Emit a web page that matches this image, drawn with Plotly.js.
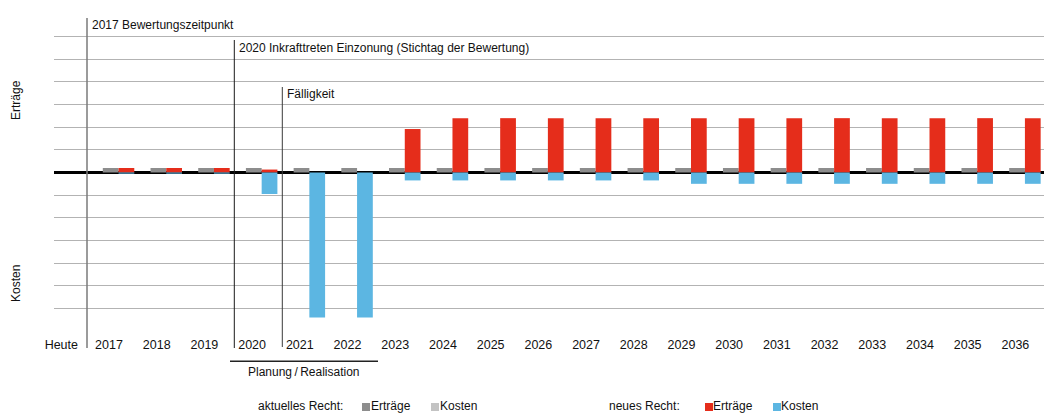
<!DOCTYPE html>
<html>
<head>
<meta charset="utf-8">
<script src="https://cdn.plot.ly/plotly-3.0.1.min.js"></script>
<style>
html,body{margin:0;padding:0;background:#fff;}
#chart{width:1045px;height:413px;}
</style>
</head>
<body>
<div id="chart"></div>
<script>
// ---- data ----
var categories = ['Heute','2017','2018','2019','2020','2021','2022','2023','2024','2025','2026','2027','2028','2029','2030','2031','2032','2033','2034','2035','2036'];
var aktuellErtraege = [0,0.2,0.2,0.2,0.2,0.2,0.2,0.2,0.2,0.2,0.2,0.2,0.2,0.2,0.2,0.2,0.2,0.2,0.2,0.2,0.2];
var aktuellKosten   = [0,0,0,0,0,0,0,0,0,0,0,0,0,0,0,0,0,0,0,0,0];
var neuErtraege     = [0,0.2,0.2,0.2,0.13,0,0,1.92,2.4,2.4,2.4,2.4,2.4,2.4,2.4,2.4,2.4,2.4,2.4,2.4,2.4];
var neuKosten       = [0,-0.05,-0.05,-0.05,-0.95,-6.4,-6.4,-0.35,-0.35,-0.35,-0.35,-0.35,-0.35,-0.5,-0.5,-0.5,-0.5,-0.5,-0.5,-0.5,-0.5];
var legendLabels = {aktuell:'aktuelles Recht:', neu:'neues Recht:', ertraege:'Erträge', kosten:'Kosten'};

// ---- geometry helpers (pixel -> paper) ----
var L = 54, R = 1044, T = 14, B = 331;
function px(x){ return (x - L) / (R - L); }
function py(y){ return (B - y) / (B - T); }

var C = {grau:'#8d8d8d', hellgrau:'#c3c3c3', rot:'#e52d1b', blau:'#5cb6e2'};
var W = 0.33;

var traces = [
  {type:'bar', x:categories, y:aktuellErtraege, width:W, offset:-0.13, marker:{color:C.grau}, name:'aktuelles Recht Erträge', showlegend:false, hoverinfo:'x+y'},
  {type:'bar', x:categories, y:aktuellKosten, width:W, offset:-0.13, marker:{color:C.hellgrau}, name:'aktuelles Recht Kosten', showlegend:false, hoverinfo:'x+y'},
  {type:'bar', x:categories, y:neuErtraege, width:W, offset:0.2, marker:{color:C.rot}, name:'neues Recht Erträge', showlegend:false, hoverinfo:'x+y'},
  {type:'bar', x:categories, y:neuKosten, width:W, offset:0.2, marker:{color:C.blau}, name:'neues Recht Kosten', showlegend:false, hoverinfo:'x+y'}
];

var fnt = {family:'"Liberation Sans", Arial, sans-serif', size:12, color:'#111'};
function ann(text, x, y, xanchor, opts){
  var a = {text:text, xref:'paper', yref:'paper', x:px(x), y:py(y), xanchor:xanchor||'left', yanchor:'middle', showarrow:false, font:fnt};
  for (var k in (opts||{})) a[k]=opts[k];
  return a;
}

var annotations = [
  ann('2017 Bewertungszeitpunkt', 90, 25, 'left'),
  ann('2020 Inkrafttreten Einzonung (Stichtag der Bewertung)', 237, 48, 'left'),
  ann('Fälligkeit', 285, 94, 'left'),
  ann('Erträge', 16, 100, 'center', {textangle:-90}),
  ann('Kosten', 16, 284, 'center', {textangle:-90}),
  ann('Planung\u2009/\u2009Realisation', 304, 372, 'center'),
  ann(legendLabels.aktuell, 256, 406, 'left'),
  ann(legendLabels.ertraege, 369, 406, 'left'),
  ann(legendLabels.kosten, 438, 406, 'left'),
  ann(legendLabels.neu, 607, 406, 'left'),
  ann(legendLabels.ertraege, 711, 406, 'left'),
  ann(legendLabels.kosten, 779, 406, 'left')
];

function vline(x, yTop, yBot, color, w){
  return {type:'line', xref:'paper', yref:'paper', x0:px(x), x1:px(x), y0:py(yTop), y1:py(yBot), line:{color:color, width:w}};
}
function box(x, color){
  return {type:'rect', xref:'paper', yref:'paper', x0:px(x), x1:px(x+8), y0:py(411), y1:py(403), fillcolor:color, line:{width:0}};
}
var shapes = [
  vline(87, 18, 348, '#7a7a7a', 1.5),
  vline(234.3, 40, 348, '#1a1a1a', 1),
  vline(282.3, 87, 347, '#3a3a3a', 1),
  {type:'line', xref:'paper', yref:'paper', x0:px(230), x1:px(378), y0:py(361.3), y1:py(361.3), line:{color:'#222', width:1.5}},
  box(362, C.grau), box(431, C.hellgrau), box(705, C.rot), box(773, C.blau)
];

var layout = {
  width:1045, height:413,
  margin:{l:L, r:1045-R, t:T, b:413-B, pad:0},
  paper_bgcolor:'#fff', plot_bgcolor:'#fff',
  barmode:'overlay',
  showlegend:false,
  font:fnt,
  xaxis:{type:'category', range:[-0.153, 20.6], showgrid:false, zeroline:false, showline:false, ticks:'',
         tickfont:{family:fnt.family, size:12.5, color:'#111'}, ticklabelstandoff:4, fixedrange:true},
  yaxis:{range:[-7,7], dtick:1, tick0:0, showticklabels:false, showgrid:true, gridcolor:'#b3b3b3', gridwidth:1,
         zeroline:true, zerolinecolor:'#000', zerolinewidth:2.5, showline:false, ticks:'', fixedrange:true},
  annotations:annotations,
  shapes:shapes
};

Plotly.newPlot('chart', traces, layout, {displayModeBar:false, staticPlot:true});
</script>
</body>
</html>
